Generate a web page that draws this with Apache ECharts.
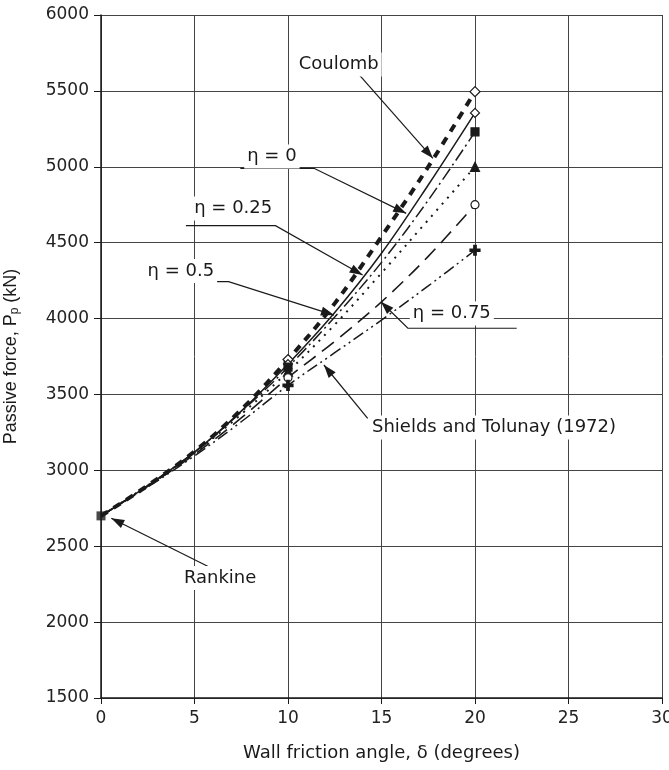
<!DOCTYPE html>
<html>
<head>
<meta charset="utf-8">
<script src="https://cdn.jsdelivr.net/npm/echarts@6/dist/echarts.min.js"></script>
<style>
  html, body { margin: 0; padding: 0; background: #fff; }
  #chart { width: 669px; height: 770px; }
</style>
</head>
<body>
<div id="chart"></div>
<script>
// wall friction angle (degrees) and passive force (kN) for each curve
const delta = [0, 2.5, 5, 7.5, 10, 12.5, 15, 17.5, 20];
const coulomb = [2700, 2900, 3125, 3400, 3730, 4100, 4540, 5000, 5495];
const eta0 = [2700, 2900, 3120, 3390, 3700, 4040, 4430, 4880, 5355];
const eta025 = [2700, 2900, 3120, 3385, 3680, 4010, 4370, 4780, 5230];
const eta05 = [2700, 2900, 3115, 3370, 3650, 3960, 4300, 4650, 5000];
const eta075 = [2700, 2895, 3105, 3345, 3610, 3850, 4110, 4410, 4750];
const shields = [2700, 2890, 3095, 3320, 3560, 3775, 3990, 4215, 4450];
const markedAt = [10, 20];
const rankine = [[0, 2700]];

const xTicks = [0, 5, 10, 15, 20, 25, 30];
const yTicks = [1500, 2000, 2500, 3000, 3500, 4000, 4500, 5000, 5500, 6000];

const INK = '#1a1a1a';
const FONT = 'DejaVu Sans';
const PLUS = 'path://M3,0h2v3h3v2h-3v3h-2v-3h-3v-2h3z';

const chart = echarts.init(document.getElementById('chart'));

function curve(name, values, lineStyle, symbol, symbolSize, fill) {
  return {
    name: name,
    type: 'line',
    smooth: 0.35,
    z: 3,
    symbol: symbol,
    symbolSize: symbolSize,
    itemStyle: { color: fill, borderColor: INK, borderWidth: 1.2 },
    lineStyle: Object.assign({ color: INK, width: 1.5 }, lineStyle),
    data: delta.map((d, i) => markedAt.includes(d)
      ? [d, values[i]]
      : { value: [d, values[i]], symbol: 'none' })
  };
}

const options = {
  animation: false,
  backgroundColor: '#fff',
  grid: { left: 101, right: 7, top: 15, bottom: 72, outerBoundsMode: 'none' },
  xAxis: {
    type: 'value',
    min: xTicks[0],
    max: xTicks[xTicks.length - 1],
    interval: 5,
    name: 'Wall friction angle, δ (degrees)',
    nameLocation: 'middle',
    nameGap: 46,
    nameTextStyle: { fontFamily: FONT, fontSize: 18, color: INK },
    axisLine: { lineStyle: { color: INK, width: 1.5 } },
    axisTick: { length: 6, lineStyle: { color: INK } },
    axisLabel: { fontFamily: FONT, fontSize: 17, color: '#222', margin: 12, formatter: v => String(v) },
    splitLine: { lineStyle: { color: '#444', width: 1 } }
  },
  yAxis: {
    type: 'value',
    min: yTicks[0],
    max: yTicks[yTicks.length - 1],
    interval: 500,
    name: 'Passive force, P{s|p} (kN)',
    nameLocation: 'middle',
    nameRotate: 90,
    nameGap: 80,
    nameTextStyle: {
      fontFamily: 'Liberation Sans', fontSize: 18, color: INK,
      rich: { s: { fontFamily: 'Liberation Sans', fontSize: 12, color: INK, padding: [8, 0, 0, 0] } }
    },
    axisLine: { show: true, lineStyle: { color: INK, width: 1.5 } },
    axisTick: { show: true, length: 7, lineStyle: { color: INK } },
    axisLabel: { fontFamily: FONT, fontSize: 17, color: '#222', margin: 12, formatter: v => String(v) },
    splitLine: { lineStyle: { color: '#444', width: 1 } }
  },
  series: [
    curve('Coulomb', coulomb, { width: 4, type: [8, 7] }, 'diamond', 10, '#fff'),
    curve('η = 0', eta0, { width: 1.5 }, 'diamond', 9, '#fff'),
    curve('η = 0.25', eta025, { width: 1.5, type: [13, 4, 2, 4] }, 'rect', 8, INK),
    curve('η = 0.5', eta05, { width: 2, type: [2, 6] }, 'triangle', 9, INK),
    curve('η = 0.75', eta075, { width: 1.6, type: [15, 8] }, 'circle', 8, '#fff'),
    curve('Shields and Tolunay (1972)', shields, { width: 1.5, type: [12, 4, 2, 4, 2, 4] }, PLUS, 10, INK),
    {
      name: 'Rankine',
      type: 'scatter',
      z: 4,
      symbol: 'rect',
      symbolSize: 9,
      itemStyle: { color: INK },
      data: rankine
    }
  ]
};

options && chart.setOption(options);

// callouts: label position and leader path in data units, arrow at the last point
const notes = [
  { text: 'Coulomb', at: [12.71, 5674], path: [[13.81, 5605], [17.75, 5056]] },
  { text: 'η = 0', at: [9.14, 5068], path: [[7.45, 4990], [11.39, 4990], [16.32, 4693]] },
  { text: 'η = 0.25', at: [7.07, 4725], path: [[4.54, 4612], [9.33, 4612], [13.99, 4287]] },
  { text: 'η = 0.5', at: [4.27, 4313], path: [[2.43, 4243], [6.82, 4243], [12.46, 4023]] },
  { text: 'η = 0.75', at: [18.76, 4033], path: [[22.23, 3936], [16.41, 3936], [14.97, 4111]] },
  { text: 'Shields and Tolunay (1972)', at: [14.33, 3282], align: 'left', path: [[14.26, 3343], [11.92, 3694]] },
  { text: 'Rankine', at: [6.37, 2291], path: [[5.92, 2355], [0.55, 2684]] }
];

const toPx = p => chart.convertToPixel({ gridIndex: 0 }, p);
const graphics = [];
notes.forEach(n => {
  const pts = n.path.map(toPx);
  graphics.push({
    type: 'polyline', z: 50, silent: true,
    shape: { points: pts },
    style: { stroke: INK, lineWidth: 1.2, fill: null }
  });
  const tip = pts[pts.length - 1], prev = pts[pts.length - 2];
  const ang = Math.atan2(tip[1] - prev[1], tip[0] - prev[0]);
  const len = 13, half = 4.5;
  const bx = tip[0] - len * Math.cos(ang), by = tip[1] - len * Math.sin(ang);
  graphics.push({
    type: 'polygon', z: 51, silent: true,
    shape: { points: [tip,
      [bx + half * Math.sin(ang), by - half * Math.cos(ang)],
      [bx - half * Math.sin(ang), by + half * Math.cos(ang)]] },
    style: { fill: INK }
  });
  const c = toPx(n.at);
  graphics.push({
    type: 'text', z: 52, silent: true,
    x: c[0], y: c[1],
    style: {
      text: n.text, fontFamily: FONT, fontSize: 18, fill: INK,
      align: n.align || 'center', verticalAlign: 'middle',
      backgroundColor: '#fff', padding: [3, 3, 3, 3]
    }
  });
});
chart.setOption({ graphic: graphics });
</script>
</body>
</html>
